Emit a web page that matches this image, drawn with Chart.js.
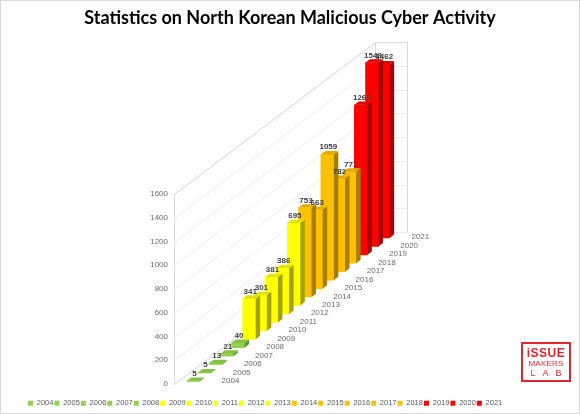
<!DOCTYPE html>
<html>
<head>
<meta charset="utf-8">
<script src="https://cdn.jsdelivr.net/npm/chart.js@4.4.1/dist/chart.umd.min.js"></script>
<style>
  html, body { margin: 0; padding: 0; background: #ffffff; }
  #wrap { position: relative; width: 580px; height: 414px; overflow: hidden; }
  #c { display: block; }
  #frame { position: absolute; left: 0; top: 0; width: 580px; height: 414px; box-sizing: border-box; border: 1px solid #d9d9d9; pointer-events: none; }
  #logo { position: absolute; left: 521px; top: 342px; width: 50px; height: 40px; box-sizing: border-box;
          border: 2px solid #e3262d; color: #e3262d; font-family: 'Liberation Sans', Arial, sans-serif;
          text-align: center; line-height: 1; }
  #logo .l1 { font-size: 12px; font-weight: bold; margin-top: 3px; letter-spacing: 0.5px; }
  #logo .l2 { font-size: 8px; margin-top: 1px; letter-spacing: 0.2px; }
  #logo .l3 { font-size: 9px; margin-top: 1px; letter-spacing: 7px; padding-left: 7px; }
</style>
</head>
<body>
<div id="wrap">
  <canvas id="c" width="580" height="414"></canvas>
  <div id="logo"><div class="l1">iSSUE</div><div class="l2">MAKERS</div><div class="l3">LAB</div></div>
  <div id="frame"></div>
</div>
<script>
// ---- data ----
const years  = ['2004','2005','2006','2007','2008','2009','2010','2011','2012','2013','2014','2015','2016','2017','2018','2019','2020','2021'];
const values = [5, 5, 13, 21, 40, 341, 301, 381, 386, 695, 753, 663, 1059, 782, 771, 1263, 1548, 1462];
const yearGroup = ['green','green','green','green','green','yellow','yellow','yellow','yellow','yellow','orange','orange','orange','orange','orange','red','red','red'];
const yMin = 0, yMax = 1600, yStep = 200;

// ---- styles ----
const palette = {
  green:  { front: '#92D050', side: '#64932f', top: '#84c141' },
  yellow: { front: '#FFFF00', side: '#a3a300', top: '#e3e300' },
  orange: { front: '#FFC000', side: '#a87e00', top: '#e3ab00' },
  red:    { front: '#FF0000', side: '#a50000', top: '#dd0000' }
};
const DEPTH_X = 201, DEPTH_Y = -152;   // oblique depth direction of the floor
const FLOOR_W = 32;                    // horizontal width of the floor
const BAR_DEPTH = 0.4;                 // bar thickness as part of a depth slot

Chart.defaults.font.family = "'Liberation Sans', Arial, sans-serif";

function barGeom(chart, meta) {
  const el = meta.data[0];
  const a = chart.chartArea;
  const n = chart.scales.x.getLabels().length;
  const frac = (el.x - a.left) / (a.right - a.left);
  const f = frac - (BAR_DEPTH / 2) / n;
  const w = el.width;
  const X = a.left + (FLOOR_W - w) / 2 + f * DEPTH_X;
  const Y = a.bottom + f * DEPTH_Y;
  return { el, w, dx: X + w / 2 - el.x, dy: Y - el.base,
           ddx: BAR_DEPTH / n * DEPTH_X, ddy: BAR_DEPTH / n * DEPTH_Y };
}

function poly(ctx, pts, color) {
  ctx.beginPath();
  ctx.moveTo(pts[0][0], pts[0][1]);
  for (let k = 1; k < pts.length; k++) ctx.lineTo(pts[k][0], pts[k][1]);
  ctx.closePath();
  ctx.fillStyle = color;
  ctx.fill();
}

const box3d = {
  id: 'box3d',
  beforeDatasetsDraw(chart) {
    const ctx = chart.ctx, a = chart.chartArea, ys = chart.scales.y;
    ctx.save();
    ctx.lineWidth = 1;
    const L = a.left + 0.5;
    ys.ticks.forEach(t => {
      const y = Math.round(ys.getPixelForValue(t.value)) + 0.5;
      ctx.strokeStyle = '#ececec';
      ctx.beginPath();
      ctx.moveTo(L, y);
      ctx.lineTo(L + DEPTH_X, y + DEPTH_Y);
      ctx.lineTo(L + DEPTH_X + FLOOR_W, y + DEPTH_Y);
      ctx.stroke();
    });
    const top = Math.round(a.top) + 0.5, bot = Math.round(a.bottom) + 0.5;
    ctx.strokeStyle = '#d9d9d9';
    ctx.beginPath();
    ctx.moveTo(L, top);
    ctx.lineTo(L + DEPTH_X, top + DEPTH_Y);
    ctx.lineTo(L + DEPTH_X + FLOOR_W, top + DEPTH_Y);
    ctx.lineTo(L + DEPTH_X + FLOOR_W, bot + DEPTH_Y);
    ctx.moveTo(L + DEPTH_X, top + DEPTH_Y);
    ctx.lineTo(L + DEPTH_X, bot + DEPTH_Y);
    ctx.moveTo(L, bot);
    ctx.lineTo(L + DEPTH_X, bot + DEPTH_Y);
    ctx.stroke();
    ctx.restore();
  },
  beforeDatasetDraw(chart, args) {
    const g = barGeom(chart, args.meta);
    chart.ctx.save();
    chart.ctx.translate(g.dx, g.dy);
  },
  afterDatasetDraw(chart, args) {
    const ctx = chart.ctx;
    const g = barGeom(chart, args.meta);
    const el = g.el;
    const i = args.index;
    const col = palette[yearGroup[i]];
    const Lx = el.x - g.w / 2, R = el.x + g.w / 2, T = el.y, B = el.base;
    poly(ctx, [[R, T], [R + g.ddx, T + g.ddy], [R + g.ddx, B + g.ddy], [R, B]], col.side);
    poly(ctx, [[Lx, T], [R, T], [R + g.ddx, T + g.ddy], [Lx + g.ddx, T + g.ddy]], col.top);
    ctx.restore();
  },
  afterDatasetsDraw(chart) {
    const ctx = chart.ctx, a = chart.chartArea, xs = chart.scales.x;
    ctx.save();
    // depth (category) labels
    ctx.font = "8px 'Liberation Sans', Arial, sans-serif";
    ctx.fillStyle = '#6b6b6b';
    ctx.textAlign = 'left';
    ctx.textBaseline = 'middle';
    xs.getLabels().forEach((lab, i) => {
      const frac = (xs.getPixelForValue(i) - a.left) / (a.right - a.left);
      ctx.fillText(lab, a.left + FLOOR_W + 10 + frac * DEPTH_X, a.bottom + frac * DEPTH_Y + 1);
    });
    // value labels
    ctx.font = "bold 8px 'Liberation Sans', Arial, sans-serif";
    ctx.fillStyle = '#404040';
    ctx.textAlign = 'center';
    ctx.textBaseline = 'alphabetic';
    chart.data.datasets.forEach((ds, i) => {
      const meta = chart.getDatasetMeta(i);
      const g = barGeom(chart, meta);
      const v = ds.data[0].y;
      ctx.fillText(String(v), g.el.x + g.dx + 1, g.el.y + g.dy - 5);
    });
    ctx.restore();
  }
};

const datasets = years.map((yr, i) => ({
  label: yr,
  data: [{ x: yr, y: values[i] }],
  backgroundColor: palette[yearGroup[i]].front,
  borderWidth: 0,
  barThickness: 13,
  grouped: false,
  order: i,
  clip: false
}));

new Chart(document.getElementById('c'), {
  type: 'bar',
  data: { labels: years, datasets },
  plugins: [box3d],
  options: {
    responsive: false,
    animation: false,
    events: [],
    layout: { padding: { left: 27, right: 27, top: 0, bottom: -3 } },
    plugins: {
      title: {
        display: true,
        text: 'Statistics on North Korean Malicious Cyber Activity',
        color: '#000000',
        font: { size: 18, weight: 'bold', family: "Lato, 'Liberation Sans', sans-serif" },
        padding: { top: 7, bottom: 165.4 }
      },
      legend: {
        position: 'bottom',
        align: 'start',
        labels: { boxWidth: 5, boxHeight: 5, padding: 1, color: '#595959', font: { size: 7.5 } }
      },
      tooltip: { enabled: false }
    },
    scales: {
      x: {
        type: 'category',
        offset: true,
        grid: { display: false },
        border: { display: false },
        ticks: { display: false },
        afterFit: s => { s.height = 14.5; }
      },
      y: {
        min: yMin, max: yMax,
        ticks: { stepSize: yStep, padding: 6, color: '#6b6b6b', font: { size: 8 }, callback: v => String(v) },
        grid: { display: false, drawTicks: false },
        border: { display: true, color: '#d9d9d9' },
        afterFit: s => { s.width = 147; }
      }
    }
  }
});
</script>
</body>
</html>
